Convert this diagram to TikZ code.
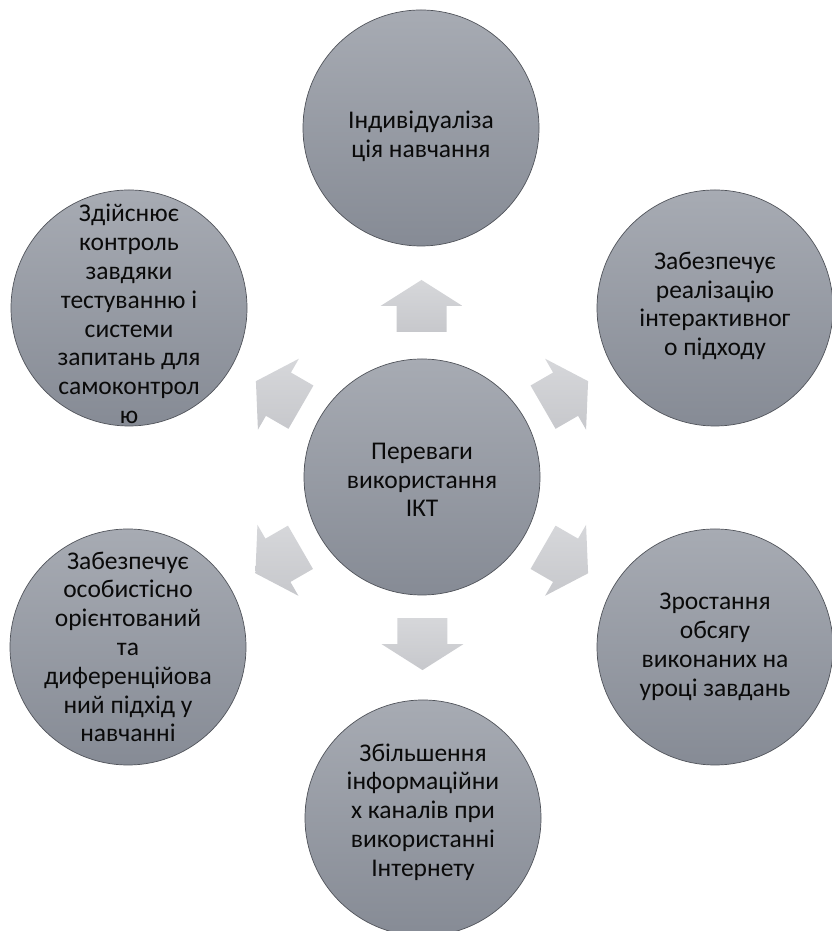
\documentclass[tikz,border=0pt]{standalone}
\usepackage{fontspec}
\setmainfont{Carlito}
\usetikzlibrary{calc}
\definecolor{circtop}{RGB}{167,171,179}
\definecolor{circbot}{RGB}{134,139,149}
\definecolor{circline}{RGB}{80,83,90}
\definecolor{arrtop}{RGB}{214,215,218}
\definecolor{arrbot}{RGB}{199,200,204}
\definecolor{txt}{RGB}{10,10,10}
\tikzset{
  bubble/.style={circle, minimum size=236pt, inner sep=0pt, draw=circline, line width=0.7pt,
    top color=circtop, bottom color=circbot},
  lbl/.style={align=center, text=txt, font=\fontsize{25.5}{28.8}\selectfont, inner sep=0pt},
  blockarrow/.style={top color=arrtop, bottom color=arrbot, draw=none}
}
\newcommand{\radarrow}[3]{%
  \begin{scope}[shift={($(#1)!0.49!(#2)$)}, rotate=#3]
    \path[blockarrow] (-26,-25) -- (0,-25) -- (0,-41) -- (26,0) -- (0,41) -- (0,25) -- (-26,25) -- cycle;
  \end{scope}}
\begin{document}
\begin{tikzpicture}[x=1pt,y=1pt]
\useasboundingbox (0,0) rectangle (831,931);
\node[bubble] (c)   at (422,454) {};
\node[bubble] (t)   at (421,803) {};
\node[bubble] (ur)  at (715,623) {};
\node[bubble] (lr)  at (715,284) {};
\node[bubble] (b)   at (423,113) {};
\node[bubble] (ll)  at (128,284) {};
\node[bubble] (ul)  at (129,623) {};

\radarrow{c}{t}{90}
\radarrow{c}{ur}{30}
\radarrow{c}{lr}{-30}
\radarrow{c}{b}{-90}
\radarrow{c}{ll}{210}
\radarrow{c}{ul}{150}

\node[lbl] (tc)  at ($(c)+(0,-3)$) {Переваги\\використання\\ІКТ};
\node[lbl] (tt)  at ($(t)+(0,-8)$) {Індивідуаліза\\ція навчання};
\node[lbl] (tur) at ($(ur)+(0,2)$) {Забезпечує\\реалізацію\\інтерактивног\\о підходу};
\node[lbl] (tlr) at ($(lr)+(0,0)$) {Зростання\\обсягу\\виконаних на\\уроці завдань};
\node[lbl] (tb)  at ($(b)+(0,6)$) {Збільшення\\інформаційни\\х каналів при\\використанні\\Інтернету};
\node[lbl] (tll) at ($(ll)+(0,0)$) {Забезпечує\\особистісно\\орієнтований\\та\\диференційова\\ний підхід у\\навчанні};
\node[lbl] (tul) at ($(ul)+(0,-6)$) {Здійснює\\контроль\\завдяки\\тестуванню і\\системи\\запитань для\\самоконтрол\\ю};
\end{tikzpicture}
\end{document}
